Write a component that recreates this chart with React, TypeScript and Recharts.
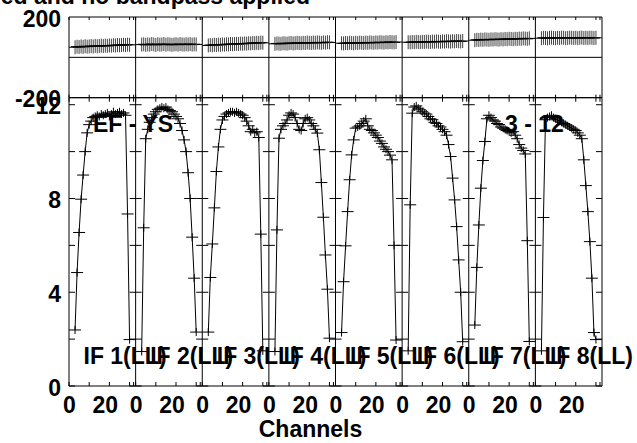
import { ReferenceLine, Scatter, ScatterChart, XAxis, YAxis } from "recharts";

// channel numbers plotted in every IF panel
const CHANNELS = [3, 4, 5, 6, 7, 8, 9, 10, 11, 12, 13, 14, 15, 16, 17, 18, 19, 20, 21, 22, 23, 24, 25, 26, 27, 28, 29, 30];

const IF_LABELS = ["IF 1(LL)", "IF 2(LL)", "IF 3(LL)", "IF 4(LL)", "IF 5(LL)", "IF 6(LL)", "IF 7(LL)", "IF 8(LL)"];

// amplitude per channel, one list per IF
const AMP_IF1 = [2.39, 4.84, 6.55, 7.97, 9.0, 10.0, 10.8, 11.15, 11.3, 11.45, 11.5, 11.55, 11.5, 11.6, 11.55, 11.6, 11.65, 11.5, 11.6, 11.7, 11.6, 11.65, 11.7, 11.6, 11.65, 11.55, 7.34, 1.98];
const AMP_IF2 = [1.47, 6.75, 10.55, 10.95, 11.25, 11.45, 11.6, 11.7, 11.8, 11.85, 11.9, 11.85, 11.9, 11.8, 11.75, 11.7, 11.6, 11.5, 11.4, 11.2, 10.9, 10.5, 10.0, 9.1, 8.0, 6.35, 4.6, 2.3];
const AMP_IF3 = [2.3, 4.63, 6.06, 7.6, 9.15, 10.2, 10.95, 11.35, 11.5, 11.6, 11.65, 11.7, 11.7, 11.65, 11.7, 11.65, 11.6, 11.55, 11.45, 11.3, 11.1, 10.85, 10.95, 10.8, 10.85, 10.6, 6.48, 1.5];
const AMP_IF4 = [1.47, 6.66, 10.57, 10.95, 11.1, 11.2, 11.35, 11.55, 11.65, 11.6, 11.45, 11.2, 10.95, 10.9, 11.2, 11.4, 11.45, 11.35, 11.2, 11.1, 10.95, 10.79, 10.08, 8.68, 7.2, 5.59, 4.13, 2.04];
const AMP_IF5 = [2.28, 4.45, 5.98, 7.44, 8.8, 9.86, 10.5, 11.0, 11.05, 11.1, 11.2, 11.3, 11.4, 11.1, 10.95, 10.9, 10.8, 10.7, 10.6, 10.45, 10.35, 10.2, 10.1, 10.0, 9.85, 9.65, 6.0, 1.96];
const AMP_IF6 = [1.5, 7.73, 11.64, 11.9, 11.95, 11.85, 11.78, 11.7, 11.64, 11.6, 11.5, 11.4, 11.36, 11.25, 11.2, 11.1, 11.05, 10.95, 10.85, 10.7, 10.3, 9.79, 8.87, 7.94, 6.8, 5.38, 4.0, 1.89];
const AMP_IF7 = [2.6, 5.06, 6.87, 8.44, 9.62, 10.43, 11.4, 11.55, 11.45, 11.35, 11.3, 11.2, 11.15, 11.05, 11.0, 10.95, 10.9, 10.85, 10.8, 10.85, 10.7, 10.55, 10.3, 10.15, 10.05, 9.9, 6.2, 1.9];
const AMP_IF8 = [1.5, 7.19, 11.36, 11.45, 11.5, 11.55, 11.45, 11.4, 11.35, 11.3, 11.25, 11.2, 11.15, 11.1, 11.05, 11.0, 10.95, 10.9, 10.8, 10.7, 10.55, 9.65, 8.55, 7.44, 6.16, 4.6, 2.28, 1.98];

// phase (degrees) per channel, one list per IF
const PHASE_IF1 = [50, 53, 51, 54, 52, 55, 53, 54, 56, 54, 57, 55, 56, 58, 56, 58, 57, 59, 58, 60, 59, 61, 60, 61, 62, 61, 63, 62];
const PHASE_IF2 = [63, 65, 62, 64, 63, 66, 64, 62, 65, 63, 64, 66, 63, 65, 64, 62, 64, 65, 63, 66, 64, 63, 65, 64, 66, 63, 65, 64];
const PHASE_IF3 = [59, 61, 60, 62, 61, 63, 62, 64, 63, 65, 64, 66, 65, 66, 67, 66, 68, 67, 69, 68, 70, 69, 71, 70, 72, 71, 73, 72];
const PHASE_IF4 = [67, 69, 68, 67, 70, 69, 68, 70, 71, 69, 70, 72, 71, 70, 72, 71, 73, 72, 71, 73, 72, 74, 73, 72, 74, 73, 75, 74];
const PHASE_IF5 = [70, 69, 71, 70, 72, 71, 70, 72, 71, 73, 72, 71, 73, 72, 74, 73, 72, 74, 73, 75, 74, 73, 75, 74, 76, 75, 74, 76];
const PHASE_IF6 = [75, 74, 76, 75, 77, 76, 75, 77, 76, 78, 77, 76, 78, 77, 79, 78, 77, 79, 78, 80, 79, 78, 80, 79, 81, 80, 79, 81];
const PHASE_IF7 = [85, 87, 86, 88, 87, 89, 88, 87, 89, 88, 90, 89, 88, 90, 89, 91, 90, 92, 91, 90, 92, 91, 93, 92, 94, 93, 92, 94];
const PHASE_IF8 = [95, 97, 96, 94, 97, 98, 96, 95, 97, 96, 98, 97, 95, 96, 98, 97, 96, 97, 95, 97, 98, 96, 97, 96, 98, 97, 96, 97];

const AMP_TICKS = [0, 2, 4, 6, 8, 10, 12];
const AMP_LABELS = [0, 4, 8, 12];
const PHASE_TICKS = [-200, 200];
const CHANNEL_TICKS = [0, 10, 20, 30, 32];
const CHANNEL_LABELS = [0, 20];

const TITLE = "ed and no bandpass applied";
const BASELINE = "EF - YS";
const ANTENNAS = "3 - 12";
const X_TITLE = "Channels";

// layout
const W = 637;
const H = 443;
const LEFT = 69;
const RIGHT = 602;
const PHASE_TOP = 17;
const SPLIT = 97.7;
const AMP_BOTTOM = 386;
const PANEL_SPAN = 33; // channel units per IF panel
const PANEL_W = (RIGHT - LEFT) / 8;
const FONT = "'Liberation Sans', Arial, Helvetica, sans-serif";

const AMP = [AMP_IF1, AMP_IF2, AMP_IF3, AMP_IF4, AMP_IF5, AMP_IF6, AMP_IF7, AMP_IF8];
const PHASE = [PHASE_IF1, PHASE_IF2, PHASE_IF3, PHASE_IF4, PHASE_IF5, PHASE_IF6, PHASE_IF7, PHASE_IF8];

const toPoints = (vals: number[], k: number) =>
  vals.map((v, i) => ({ x: k * PANEL_SPAN + CHANNELS[i], y: v }));

const ampSeries = AMP.map(toPoints);
const phaseSeries = PHASE.map(toPoints);

const xTicks = IF_LABELS.flatMap((_, k) => CHANNEL_TICKS.map((t) => k * PANEL_SPAN + t));
const boundaries = Array.from({ length: 9 }, (_, k) => k * PANEL_SPAN);
const X_MAX = 8 * PANEL_SPAN;

const textStyle = { fontFamily: FONT, fontWeight: 700, fontSize: 23, fill: "#000" };

const ampCross = (p: any) => (
  <g>
    <line x1={p.cx - 6} x2={p.cx + 6} y1={p.cy} y2={p.cy} stroke="#000" strokeWidth={1} />
    <line x1={p.cx} x2={p.cx} y1={p.cy - 4} y2={p.cy + 4} stroke="#000" strokeWidth={1} />
  </g>
);

const phaseCross = (p: any) => (
  <g>
    <line x1={p.cx - 6} x2={p.cx + 6} y1={p.cy} y2={p.cy} stroke="#000" strokeWidth={1} />
    <line x1={p.cx} x2={p.cx} y1={p.cy - 7} y2={p.cy + 7} stroke="#444" strokeWidth={1} />
  </g>
);

const localChannel = (v: number) => Math.round((v - Math.floor(v / PANEL_SPAN + 1e-6) * PANEL_SPAN) * 100) / 100;

const AmpXTick = (p: any) => {
  const local = localChannel(p.payload.value);
  const show = CHANNEL_LABELS.includes(local);
  return (
    <g>
      <line x1={p.x} x2={p.x} y1={AMP_BOTTOM} y2={AMP_BOTTOM - 4} stroke="#000" />
      <line x1={p.x} x2={p.x} y1={SPLIT} y2={SPLIT + 4} stroke="#000" />
      {show && (
        <text x={p.x + (local === 0 ? 0.5 : -4)} y={AMP_BOTTOM + 27} textAnchor="middle" style={textStyle}>
          {String(local)}
        </text>
      )}
    </g>
  );
};

const PhaseXTick = (p: any) => (
  <g>
    <line x1={p.x} x2={p.x} y1={PHASE_TOP} y2={PHASE_TOP + 3} stroke="#000" />
    <line x1={p.x} x2={p.x} y1={SPLIT} y2={SPLIT - 3} stroke="#000" />
  </g>
);

const AmpYTick = (p: any) => {
  const v = p.payload.value;
  const marks = [];
  for (let k = 0; k <= 8; k++) {
    const bx = LEFT + k * PANEL_W;
    if (k < 8) marks.push(<line key={"r" + k} x1={bx} x2={bx + 6} y1={p.y} y2={p.y} stroke="#000" />);
    if (k > 0) marks.push(<line key={"l" + k} x1={bx - 6} x2={bx} y1={p.y} y2={p.y} stroke="#000" />);
  }
  return (
    <g>
      {marks}
      {AMP_LABELS.includes(v) && (
        <text x={LEFT - 8} y={p.y + 9.5} textAnchor="end" style={textStyle}>
          {String(v)}
        </text>
      )}
    </g>
  );
};

const PhaseYTick = (p: any) => (
  <text x={LEFT - 8} y={p.y + 9.5} textAnchor="end" style={textStyle}>
    {String(p.payload.value)}
  </text>
);

const box = { position: "absolute" as const, left: 0, top: 0, width: W, height: H };

export default function App() {
  return (
    <div style={{ ...box, background: "#fff" }}>
      <div style={box}>
        <ScatterChart width={W} height={H} margin={{ top: PHASE_TOP, right: W - RIGHT, bottom: H - SPLIT - 1, left: LEFT - 1 }}>
          <XAxis
            type="number"
            dataKey="x"
            domain={[0, X_MAX]}
            allowDataOverflow
            ticks={xTicks}
            interval={0}
            height={1}
            tickSize={0}
            tickMargin={0}
            axisLine={false}
            tickLine={false}
            tick={PhaseXTick}
          />
          <YAxis
            type="number"
            dataKey="y"
            domain={[-200, 200]}
            allowDataOverflow
            ticks={PHASE_TICKS}
            interval={0}
            width={1}
            tickSize={0}
            tickMargin={0}
            axisLine={false}
            tickLine={false}
            tick={PhaseYTick}
          />
          <ReferenceLine y={0} stroke="#000" strokeWidth={1} />
          <ReferenceLine y={200} stroke="#000" strokeWidth={1} />
          <ReferenceLine y={-200} stroke="#000" strokeWidth={1} />
          {boundaries.map((b) => (
            <ReferenceLine key={b} x={b} stroke="#000" strokeWidth={1} />
          ))}
          {phaseSeries.map((d, k) => (
            <Scatter
              key={IF_LABELS[k]}
              data={d}
              line={{ stroke: "#000", strokeWidth: 1 }}
              lineType="joint"
              shape={phaseCross}
              isAnimationActive={false}
            />
          ))}
        </ScatterChart>
      </div>
      <div style={box}>
        <ScatterChart width={W} height={H} margin={{ top: SPLIT, right: W - RIGHT, bottom: H - AMP_BOTTOM - 1, left: LEFT - 1 }}>
          <XAxis
            type="number"
            dataKey="x"
            domain={[0, X_MAX]}
            allowDataOverflow
            ticks={xTicks}
            interval={0}
            height={1}
            tickSize={0}
            tickMargin={0}
            axisLine={false}
            tickLine={false}
            tick={AmpXTick}
          />
          <YAxis
            type="number"
            dataKey="y"
            domain={[0, 12.3]}
            allowDataOverflow
            ticks={AMP_TICKS}
            interval={0}
            width={1}
            tickSize={0}
            tickMargin={0}
            axisLine={false}
            tickLine={false}
            tick={AmpYTick}
          />
          <ReferenceLine y={0} stroke="#000" strokeWidth={1} />
          <ReferenceLine y={12.3} stroke="#000" strokeWidth={1} />
          {boundaries.map((b) => (
            <ReferenceLine key={b} x={b} stroke="#000" strokeWidth={1} />
          ))}
          {ampSeries.map((d, k) => (
            <Scatter
              key={IF_LABELS[k]}
              data={d}
              line={{ stroke: "#000", strokeWidth: 1 }}
              lineType="joint"
              shape={ampCross}
              isAnimationActive={false}
            />
          ))}
        </ScatterChart>
      </div>
      <svg width={W} height={H} style={{ position: "absolute", left: 0, top: 0, pointerEvents: "none" }}>
        <text x={310} y={3.5} textAnchor="end" style={textStyle}>{TITLE}</text>
        <text x={93} y={131.5} style={textStyle}>{BASELINE}</text>
        <text x={505} y={131.5} style={textStyle}>{ANTENNAS}</text>
        {IF_LABELS.map((l, k) => (
          <text key={l} x={LEFT + k * PANEL_W + 14.5} y={363.5} style={textStyle}>{l}</text>
        ))}
        <text x={310.5} y={436.5} textAnchor="middle" style={textStyle}>{X_TITLE}</text>
      </svg>
    </div>
  );
}
